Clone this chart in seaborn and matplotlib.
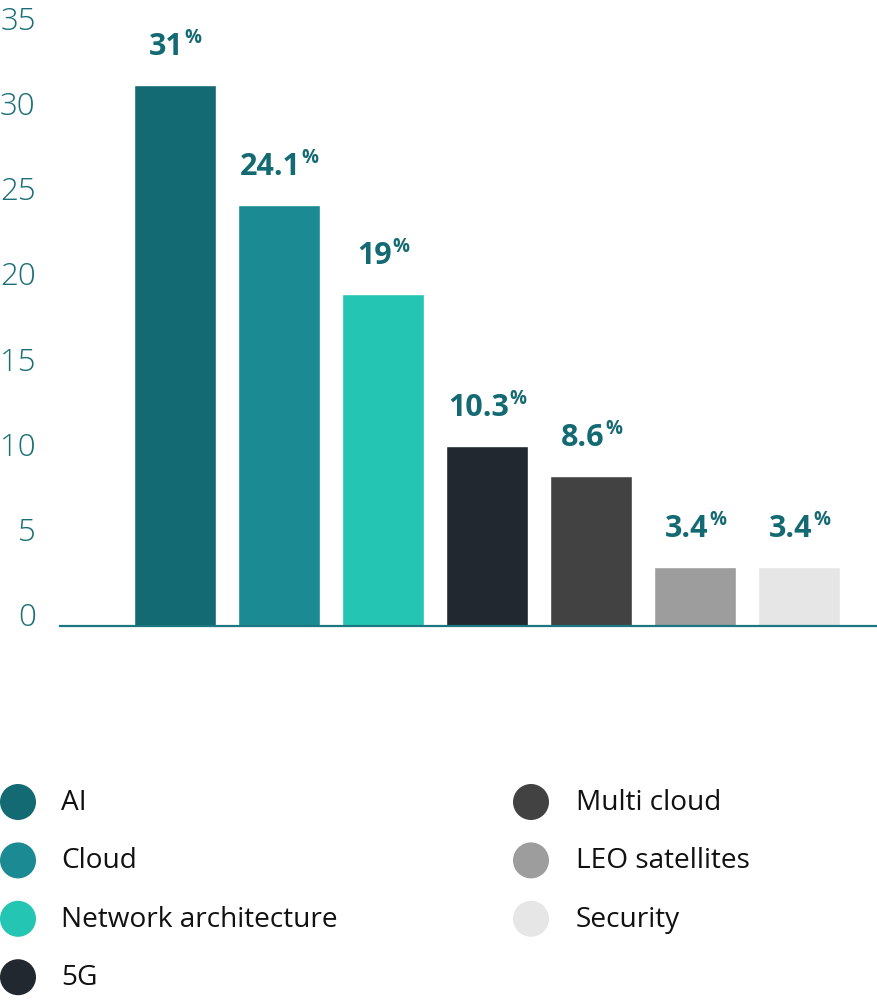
import matplotlib
matplotlib.use("Agg")
import matplotlib.pyplot as plt
import seaborn as sns
import pandas as pd

categories = ["AI", "Cloud", "Network architecture", "5G", "Multi cloud", "LEO satellites", "Security"]
values = [31, 24.1, 19, 10.3, 8.6, 3.4, 3.4]
value_labels = ["31", "24.1", "19", "10.3", "8.6", "3.4", "3.4"]
colors = ["#146A73", "#1C8A92", "#25C5B4", "#212830", "#424242", "#9D9D9D", "#E6E6E6"]
yticks = [0, 5, 10, 15, 20, 25, 30, 35]

sns.set_theme(style="white")
plt.rcParams["font.family"] = ["Open Sans", "DejaVu Sans"]

TEAL = "#146A73"
W, H = 877, 1001
fig = plt.figure(figsize=(W / 100, H / 100), dpi=100)
fig.patch.set_facecolor("white")

px_per_unit = 17.46
ax = fig.add_axes([60 / W, 375 / H, 1 - 60 / W, 36 * px_per_unit / H])
df = pd.DataFrame({"cat": categories, "val": values})
sns.barplot(data=df, x="cat", y="val", hue="cat", palette=colors, dodge=False,
            width=0.79, legend=False, ax=ax, saturation=1, order=categories,
            hue_order=categories)
ax.set_xlim(-1.106, 6.75)
ax.set_ylim(0, 36)
ax.set_xlabel("")
ax.set_ylabel("")
ax.set_xticks([])
ax.set_yticks([])
for s in ["top", "right", "left"]:
    ax.spines[s].set_visible(False)
ax.spines["bottom"].set_color("#1C7880")
ax.spines["bottom"].set_linewidth(1.6)
ax.grid(False)
ax.set_facecolor("white")

# tick scale of the reference is slightly compressed relative to the bars
k_off, k_scale = 0.687, 0.9754
sec = ax.secondary_yaxis("left", functions=(lambda y: (y - k_off) / k_scale,
                                            lambda s: s * k_scale + k_off))
sec.set_yticks(yticks)
sec.set_yticklabels([str(t) for t in yticks])
sec.tick_params(axis="y", length=0, pad=17.5, labelsize=22.5, labelcolor="#1A6E77")
for lbl in sec.get_yticklabels():
    lbl.set_fontweight("light")
sec.spines["left"].set_visible(False)

for i, (v, lab) in enumerate(zip(values, value_labels)):
    t = ax.annotate(lab, xy=(i, v), xytext=(-6, 21.5), textcoords="offset points",
                    ha="center", va="baseline", fontsize=22, fontweight="bold", color=TEAL)
    ax.annotate("%", xy=(1, 1), xycoords=t, xytext=(0.5, 3), textcoords="offset points",
                ha="left", va="top", fontsize=13.5, fontweight="bold", color=TEAL)

# legend
lax = fig.add_axes([0, 0, 1, 1], zorder=-1)
lax.set_xlim(0, W)
lax.set_ylim(H, 0)
lax.axis("off")
row_gap = 58.4
for k, (cat, col) in enumerate(zip(categories, colors)):
    c = 0 if k < 4 else 1
    r = k if k < 4 else k - 4
    cx = 18 if c == 0 else 531
    tx = 61 if c == 0 else 576
    cy = 802 + r * row_gap
    lax.scatter([cx], [cy], s=672, color=col, edgecolors="none")
    lax.text(tx, cy + 1, cat, ha="left", va="center", fontsize=20.2, color="#111111")

fig.savefig("out.png", dpi=100, facecolor="white")
